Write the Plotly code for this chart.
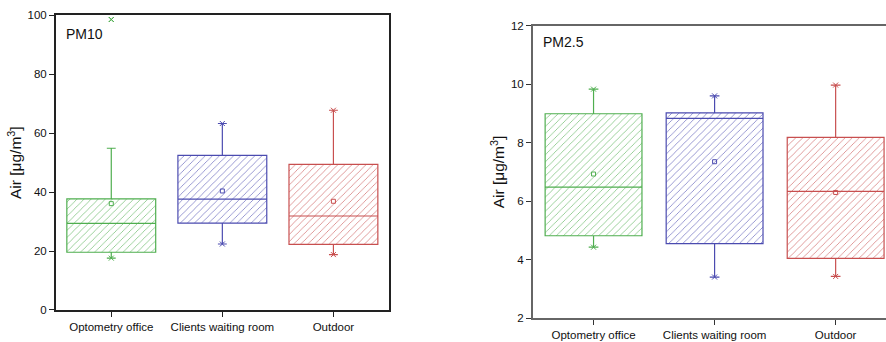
import plotly.graph_objects as go

categories = ["Optometry office", "Clients waiting room", "Outdoor"]
colors = ["#4fae4f", "#4b4bb0", "#c84f4f"]

# PM10
pm10_q1 = [19.6, 29.5, 22.3]
pm10_median = [29.4, 37.6, 31.9]
pm10_q3 = [37.7, 52.5, 49.4]
pm10_low = [17.6, 22.4, 18.8]
pm10_high = [54.9, 63.3, 67.8]
pm10_mean = [36.1, 40.4, 36.9]
pm10_outlier_cat = ["Optometry office"]
pm10_outlier_val = [98.6]
pm10_max = [98.6, 63.3, 67.8]

# PM2.5
pm25_q1 = [4.82, 4.55, 4.05]
pm25_median = [6.48, 8.83, 6.34]
pm25_q3 = [8.99, 9.02, 8.18]
pm25_low = [4.43, 3.41, 3.43]
pm25_high = [9.83, 9.60, 9.97]
pm25_mean = [6.93, 7.35, 6.30]

FONT = "Liberation Sans, Arial, sans-serif"

fig = go.Figure()


def add_panel(xa, ya, q1, med, q3, low, high, mean, xmax_vals, lw):
    for i, c in enumerate(categories):
        # hatched fill
        fig.add_trace(go.Bar(
            x=[c], y=[q3[i] - q1[i]], base=[q1[i]], width=0.8,
            marker=dict(color="rgba(255,255,255,0)",
                        line=dict(width=0),
                        pattern=dict(shape="/", fgcolor=colors[i], size=5,
                                     solidity=0.15, fgopacity=0.75)),
            xaxis=xa, yaxis=ya, showlegend=False, hoverinfo="skip"))
        fig.add_trace(go.Box(
            x=[c], q1=[q1[i]], median=[med[i]], q3=[q3[i]],
            lowerfence=[low[i]], upperfence=[high[i]],
            width=0.8, whiskerwidth=0.1,
            fillcolor="rgba(0,0,0,0)", line=dict(color=colors[i], width=lw),
            xaxis=xa, yaxis=ya, showlegend=False, boxpoints=False))
        fig.add_trace(go.Scatter(
            x=[c], y=[mean[i]], mode="markers",
            marker=dict(symbol="square-open", size=4, color=colors[i], line=dict(width=1)),
            xaxis=xa, yaxis=ya, showlegend=False))
        fig.add_trace(go.Scatter(
            x=[c, c], y=[low[i], xmax_vals[i]], mode="markers",
            marker=dict(symbol="x-thin-open", size=5, color=colors[i], line=dict(width=1, color=colors[i])),
            xaxis=xa, yaxis=ya, showlegend=False))


add_panel("x", "y", pm10_q1, pm10_median, pm10_q3, pm10_low, pm10_high, pm10_mean, pm10_max, 1.2)
add_panel("x2", "y2", pm25_q1, pm25_median, pm25_q3, pm25_low, pm25_high, pm25_mean, pm25_high, 1.2)

axis_common = dict(showgrid=False, zeroline=False, ticks="outside", ticklen=5,
                   automargin=False,
                   tickfont=dict(family=FONT, size=11.5, color="#111"))

fig.update_layout(
    width=886, height=342,
    margin=dict(l=0, r=0, t=0, b=0, autoexpand=False),
    paper_bgcolor="white", plot_bgcolor="white",
    barmode="overlay", boxmode="overlay",
    font=dict(family=FONT, size=12, color="#111"),
    xaxis=dict(domain=[0.0629, 0.439], type="category", categoryorder="array",
               categoryarray=categories, range=[-0.5, 2.5], anchor="y",
               showline=True, linecolor="#222", linewidth=1.5, mirror=True,
               tickcolor="#222", ticklabelstandoff=0, **axis_common),
    yaxis=dict(domain=[0.0936, 0.955], range=[0, 100], dtick=20, anchor="x",
               showline=True, linecolor="#222", linewidth=1.5, mirror=True,
               tickcolor="#222",
               title=dict(text="Air [μg/m<sup>3</sup>]", standoff=2,
                          font=dict(family=FONT, size=15.5, color="#111")),
               **axis_common),
    xaxis2=dict(domain=[0.6016, 1.0], type="category", categoryorder="array",
                categoryarray=categories, range=[-0.5, 2.416], anchor="y2",
                showline=True, linecolor="#666", linewidth=2, mirror=True,
                tickcolor="#333", ticklabelstandoff=0, **axis_common),
    yaxis2=dict(domain=[0.0693, 0.925], range=[2, 12], dtick=2, anchor="x2",
                showline=True, linecolor="#666", linewidth=2,
                tickcolor="#333",
                title=dict(text="Air [μg/m<sup>3</sup>]", standoff=2,
                           font=dict(family=FONT, size=15.5, color="#111")),
                **axis_common),
    annotations=[
        dict(text="PM10", xref="paper", yref="paper", x=0.072, y=0.902,
             xanchor="left", yanchor="middle", showarrow=False,
             font=dict(family=FONT, size=14, color="#111")),
        dict(text="PM2.5", xref="paper", yref="paper", x=0.611, y=0.877,
             xanchor="left", yanchor="middle", showarrow=False,
             font=dict(family=FONT, size=14, color="#111")),
    ],
)

fig.add_trace(go.Scatter(
    x=pm10_outlier_cat, y=pm10_outlier_val, mode="markers",
    marker=dict(symbol="x-thin-open", size=5, color=colors[0], line=dict(width=1, color=colors[0])),
    xaxis="x", yaxis="y", showlegend=False))

fig.write_html("out.html")
